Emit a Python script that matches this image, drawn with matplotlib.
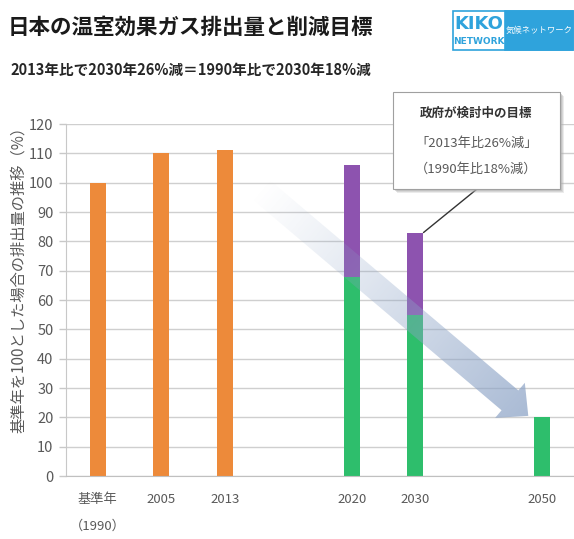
import numpy as np
import matplotlib.pyplot as plt
from matplotlib.patches import Rectangle, Polygon

plt.rcParams['font.family'] = ['Noto Sans CJK JP', 'DejaVu Sans']

# emissions relative to base year (=100)
past_labels = ['基準年\n（1990）', '2005', '2013']
past_pos = [0, 1, 2]
past_vals = [100, 110, 111]

future_labels = ['2020', '2030', '2050']
future_pos = [4, 5, 7]
future_green = [68, 55, 20]
future_total = [106, 83, 20]

y_ticks = list(range(0, 121, 10))

orange = '#ED8A3A'
green = '#2EBE6C'
purple = '#8D53AF'
grey_txt = '#595959'

fig = plt.figure(figsize=(5.74, 5.39), dpi=100)
ax = fig.add_axes([66 / 574, 1 - 476 / 539, 1 - 66 / 574, 352 / 539])

bw = 0.25
ax.bar(past_pos, past_vals, width=bw, color=orange, zorder=2)
ax.bar(future_pos, future_green, width=bw, color=green, zorder=2)
purple_part = [t - g for t, g in zip(future_total, future_green)]
ax.bar(future_pos, purple_part, bottom=future_green, width=bw, color=purple, zorder=2)

ax.set_xlim(-0.5, 7.5)
ax.set_ylim(0, 120)
ax.set_yticks(y_ticks)
ax.set_xticks(past_pos + future_pos)
ax.set_xticklabels(past_labels + future_labels, fontsize=9.5, color=grey_txt,
                   linespacing=2.4)
ax.tick_params(axis='y', labelsize=10.5, labelcolor=grey_txt, color='#c8c8c8',
               length=5, width=1, pad=4)
ax.tick_params(axis='x', length=0, pad=12)
ax.grid(axis='y', color='#cfcfcf', lw=1, zorder=0)
for s in ['top', 'right']:
    ax.spines[s].set_visible(False)
ax.spines['left'].set_color('#c8c8c8')
ax.spines['bottom'].set_color('#c0c0c0')

# trend arrow with fading gradient, drawn over the bars
tail = ax.transData.transform((2.55, 98))
tip = ax.transData.transform((6.78, 20.5))
d = tip - tail
L = np.hypot(*d)
u = d / L
n = np.array([-u[1], u[0]])
shaft_w, head_w, head_l = 26, 46, 24
base = tip - u * head_l
pts = [tail + n * shaft_w / 2, base + n * shaft_w / 2, base + n * head_w / 2, tip,
       base - n * head_w / 2, base - n * shaft_w / 2, tail - n * shaft_w / 2]
inv = ax.transData.inverted()
pts_data = inv.transform(np.array(pts))
poly = Polygon(pts_data, closed=True, fc='none', ec='none', transform=ax.transData)
ax.add_patch(poly)
x0, y0 = pts_data.min(axis=0)
x1, y1 = pts_data.max(axis=0)
gx, gy = np.meshgrid(np.linspace(x0, x1, 300), np.linspace(y1, y0, 300))
disp = ax.transData.transform(np.column_stack([gx.ravel(), gy.ravel()]))
t = np.clip(((disp - tail) @ u) / L, 0, 1).reshape(gx.shape)
img = np.zeros(gx.shape + (4,))
img[..., 0] = 0.55
img[..., 1] = 0.64
img[..., 2] = 0.78
img[..., 3] = 0.75 * t ** 1.1
im = ax.imshow(img, extent=[x0, x1, y0, y1], aspect='auto', zorder=3,
               interpolation='bilinear')
im.set_clip_path(poly)
ax.set_xlim(-0.5, 7.5)
ax.set_ylim(0, 120)

# callout box
bx, by, bw_, bh = 393 / 574, 1 - 189 / 539, 167 / 574, 97 / 539
for k, a in [(4, 0.25), (3, 0.35), (2, 0.45)]:
    fig.patches.append(Rectangle((bx + k / 574, by - k / 539), bw_, bh,
                                 transform=fig.transFigure, fc='#b0b0b0', ec='none',
                                 alpha=a, zorder=4))
fig.patches.append(Rectangle((bx, by), bw_, bh, transform=fig.transFigure,
                             fc='white', ec='#a0a0a0', lw=0.8, zorder=5))
ax.annotate('', xy=(5.13, future_total[1]), xycoords='data',
            xytext=(477 / 574, by), textcoords='figure fraction',
            arrowprops=dict(arrowstyle='-', color='#333333', lw=1, shrinkA=0, shrinkB=0),
            zorder=6)
cx = bx + bw_ / 2
fig.text(cx, 1 - 113 / 539, '政府が検討中の目標', ha='center', va='center',
         fontsize=9, fontweight='bold', color='#333333', zorder=6)
fig.text(cx, 1 - 143 / 539, '「2013年比26%減」', ha='center', va='center',
         fontsize=9.5, color=grey_txt, zorder=6)
fig.text(cx, 1 - 169 / 539, '（1990年比18%減）', ha='center', va='center',
         fontsize=9.5, color=grey_txt, zorder=6)

# y axis label
fig.text(18 / 574, 1 - 276 / 539, '基準年を100とした場合の排出量の推移（%）', rotation=90,
         ha='center', va='center', fontsize=11, color=grey_txt)

# header
fig.text(8 / 574, 1 - 27 / 539, '日本の温室効果ガス排出量と削減目標', ha='left', va='center',
         fontsize=15.5, fontweight='bold', color='#1a1a1a')
fig.text(10 / 574, 1 - 70 / 539, '2013年比で2030年26%減＝1990年比で2030年18%減', ha='left',
         va='center', fontsize=10.5, fontweight='bold', color='#262626')

# logo
blue = '#2FA3DC'
fig.patches.append(Rectangle((453 / 574, 1 - 50 / 539), 120 / 574, 39 / 539,
                             transform=fig.transFigure, fc='white', ec=blue, lw=1.2))
fig.patches.append(Rectangle((505 / 574, 1 - 50 / 539), 68 / 574, 39 / 539,
                             transform=fig.transFigure, fc=blue, ec=blue, lw=1.2))
fig.text(479 / 574, 1 - 24 / 539, 'KIKO', ha='center', va='center', fontsize=13,
         fontweight='bold', color=blue, family=['Liberation Sans Narrow', 'DejaVu Sans'])
fig.text(479 / 574, 1 - 42 / 539, 'NETWORK', ha='center', va='center', fontsize=6.5,
         fontweight='bold', color=blue, family=['Liberation Sans Narrow', 'DejaVu Sans'])
fig.text(539 / 574, 1 - 30 / 539, '気候ネットワーク', ha='center', va='center', fontsize=6,
         color='white')

fig.savefig('out.png', dpi=100)
